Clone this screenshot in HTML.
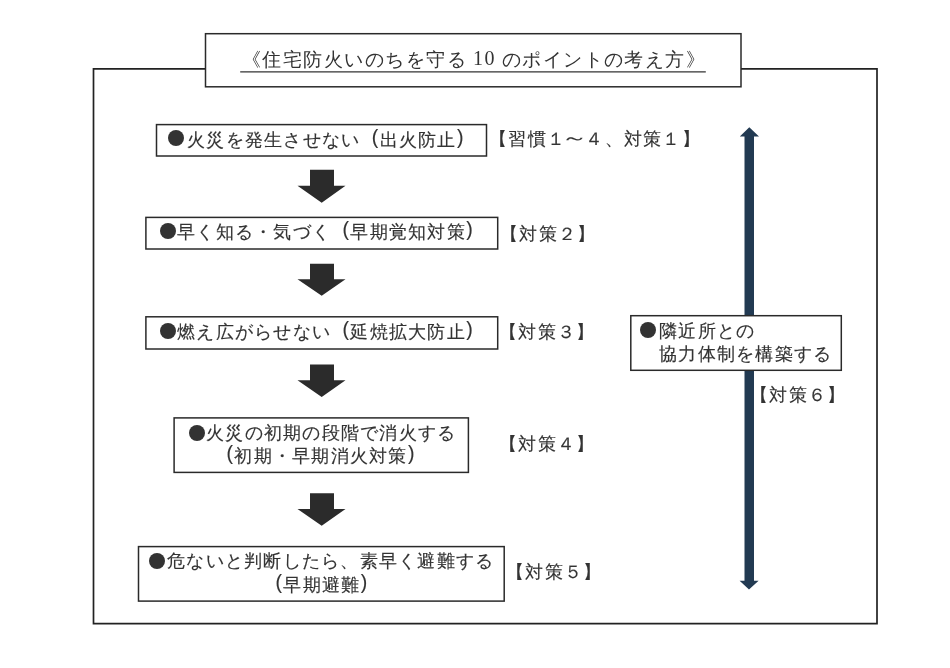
<!DOCTYPE html>
<html lang="ja">
<head>
<meta charset="utf-8">
<style>
html,body{margin:0;padding:0;background:#fff;}
body{width:950px;height:668px;position:relative;overflow:hidden;}
svg{position:absolute;left:0;top:0;}
.t{position:absolute;will-change:transform;white-space:nowrap;font-family:"Liberation Sans",sans-serif;font-size:18px;line-height:1;letter-spacing:1.25px;color:#333;-webkit-text-stroke:0.15px #333;}
.lp,.rp{display:inline-block;width:19.25px;font-family:"Liberation Sans",sans-serif;font-size:19.5px;letter-spacing:0;position:relative;top:-2px;}
.lp{text-indent:11.5px;}
.rp{text-indent:0.5px;}
.wv{display:inline-block;width:19.25px;transform:scaleX(1.5);position:relative;top:-1.5px;}
.s{font-family:"Liberation Serif",serif;}
.ti{-webkit-text-stroke:0;color:#333;}
.b{position:absolute;width:16px;height:16px;border-radius:50%;background:#333;}
</style>
</head>
<body>
<svg width="950" height="668" viewBox="0 0 950 668">
  <g fill="none" stroke="#222" stroke-width="1.7">
    <polyline points="205.5,68.9 93.5,68.9 93.5,623.6 877,623.6 877,68.9 741,68.9"/>
  </g>
  <g fill="#fff" stroke="#2a2a2a" stroke-width="1.5">
    <rect x="205.5" y="33.7" width="535.5" height="53.1"/>
    <rect x="156.5" y="124.6" width="330" height="31.4"/>
    <rect x="145.9" y="217.4" width="351.8" height="31.6"/>
    <rect x="145.9" y="316.8" width="351.8" height="32.2"/>
    <rect x="174.1" y="417.9" width="294.3" height="54.5"/>
    <rect x="138.5" y="546.6" width="365.7" height="54.5"/>
  </g>
  <line x1="240.2" y1="71.8" x2="705.8" y2="71.8" stroke="#333" stroke-width="1.3"/>
  <g fill="#2b2b2b">
    <polygon points="310,169.7 334,169.7 334,185.8 345.5,185.8 321.7,202.7 297.5,185.8 310,185.8"/>
    <polygon points="310,263.8 334,263.8 334,279.3 345.5,279.3 321.7,295.8 297.5,279.3 310,279.3"/>
    <polygon points="310,364.4 334,364.4 334,380.3 345.5,380.3 321.7,396.9 297.5,380.3 310,380.3"/>
    <polygon points="310,493.2 334,493.2 334,509 345.5,509 321.7,525.8 297.5,509 310,509"/>
  </g>
  <polygon fill="#223a52" points="749.3,127.2 759,136.6 754,136.6 754,580.8 758.6,580.8 749,589.5 739.6,580.8 744.5,580.8 744.5,136.6 739.8,136.6"/>
  <rect x="630.8" y="315.7" width="210.5" height="54.6" fill="#fff" stroke="#2a2a2a" stroke-width="1.5"/>
</svg>

<div class="t ti" style="left:241.8px;top:49.7px;font-size:19px;letter-spacing:1.46px">《住宅防火いのちを守る</div>
<div class="t s ti" style="left:473.2px;top:48px;font-size:20px;letter-spacing:1.4px">10</div>
<div class="t ti" style="left:502px;top:49.7px;font-size:19px;letter-spacing:1.4px">のポイントの考え方》</div>

<div class="b" style="left:168.3px;top:130.3px"></div>
<div class="t" style="left:187.1px;top:129.8px">火災を発生させない<span class="lp">(</span>出火防止<span class="rp">)</span></div>
<div class="t" style="left:488.7px;top:129.8px">【習慣１<span class="wv">～</span>４、対策１】</div>

<div class="b" style="left:159.5px;top:223.3px"></div>
<div class="t" style="left:177.1px;top:222.3px">早く知る・気づく<span class="lp">(</span>早期覚知対策<span class="rp">)</span></div>
<div class="t" style="left:499.8px;top:224.8px">【対策２】</div>

<div class="b" style="left:159.5px;top:323.2px"></div>
<div class="t" style="left:177.1px;top:321.5px">燃え広がらせない<span class="lp">(</span>延焼拡大防止<span class="rp">)</span></div>
<div class="t" style="left:499.4px;top:323.3px">【対策３】</div>

<div class="b" style="left:188.5px;top:424.6px"></div>
<div class="t" style="left:205.5px;top:423.5px">火災の初期の段階で消火する</div>
<div class="t" style="left:215.2px;top:446.3px"><span class="lp">(</span>初期・早期消火対策<span class="rp">)</span></div>
<div class="t" style="left:499.3px;top:434.8px">【対策４】</div>

<div class="b" style="left:149px;top:553.3px"></div>
<div class="t" style="left:166.9px;top:552px">危ないと判断したら、素早く避難する</div>
<div class="t" style="left:263.9px;top:575px"><span class="lp">(</span>早期避難<span class="rp">)</span></div>
<div class="t" style="left:506.1px;top:563.3px">【対策５】</div>

<div class="b" style="left:640.4px;top:321.8px"></div>
<div class="t" style="left:659.3px;top:321.5px">隣近所との</div>
<div class="t" style="left:659.3px;top:345px">協力体制を構築する</div>
<div class="t" style="left:750.2px;top:385.7px">【対策６】</div>
</body>
</html>
